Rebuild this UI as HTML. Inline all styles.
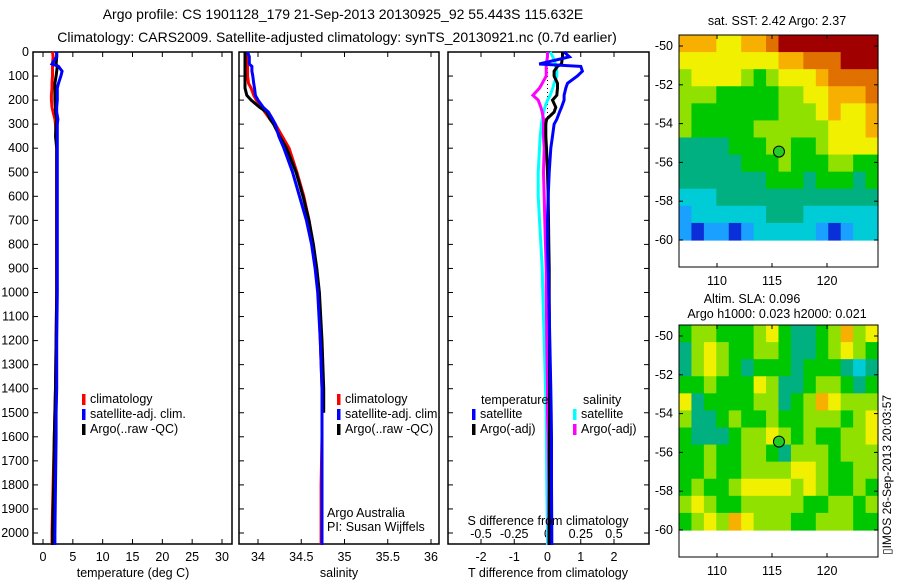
<!DOCTYPE html>
<html><head><meta charset="utf-8">
<style>
html,body{margin:0;padding:0;background:#fff;}
svg{display:block;font-family:"Liberation Sans",sans-serif;}
text{font-size:12.5px;fill:#000;}
.ttl{font-size:14px;}
</style></head>
<body>
<svg id="fig" width="900" height="580" viewBox="0 0 900 580" xmlns="http://www.w3.org/2000/svg">
<text class="ttl" x="343" y="19" text-anchor="middle">Argo profile: CS 1901128_179 21-Sep-2013 20130925_92 55.443S 115.632E</text>
<text class="ttl" x="337" y="42" text-anchor="middle">Climatology: CARS2009. Satellite-adjusted climatology: synTS_20130921.nc (0.7d earlier)</text>
<g id="plots"></g>
<text transform="translate(891,555) rotate(-90)" style="font-size:12px">▯IMOS 26-Sep-2013 20:03:57</text>
</svg>
<script>
// ---- data ----
const depths = [0,20,50,60,80,100,130,150,180,200,230,250,280,300,350,400,500,600,700,800,900,1000,1200,1400,1500,1600,1800,2000,2050];
const tempClim = [1.6,1.7,1.6,1.6,1.6,1.6,1.5,1.5,1.4,1.4,1.5,1.7,2.0,2.1,2.2,2.3,2.3,2.3,2.3,2.3,2.3,2.3,2.2,2.1,2.0,1.9,1.7,1.5,1.5];
const tempSat = [2.3,2.3,1.5,2.6,3.2,3.0,2.6,2.4,2.4,2.4,2.3,2.3,2.5,2.4,2.4,2.4,2.4,2.4,2.4,2.4,2.4,2.4,2.3,2.3,2.2,2.2,2.1,2.0,2.0];
const tempArgo = [2.3,2.3,2.2,2.4,2.3,2.2,2.0,2.0,2.0,2.0,2.1,2.1,2.3,2.2,2.1,2.3,2.3,2.3,2.3,2.3,2.3,2.3,2.2,2.1,2.0,1.9,1.8,1.6,1.6];
const salClim = [33.88,33.88,33.88,33.88,33.88,33.88,33.89,33.92,33.95,33.98,34.04,34.08,34.14,34.2,34.28,34.36,34.45,34.53,34.59,34.63,34.67,34.70,34.72,34.74,34.74,34.74,34.73,34.73,34.73];
const salSat = [33.88,33.9,33.9,33.93,33.93,33.94,33.95,33.96,33.97,34.0,34.06,34.12,34.17,34.2,34.24,34.3,34.4,34.48,34.56,34.62,34.66,34.69,34.72,34.74,34.74,34.74,34.74,34.74,34.74];
const salArgo = [33.85,33.85,33.85,33.85,33.85,33.85,33.85,33.85,33.87,33.92,34.02,34.1,34.14,34.18,34.25,34.33,34.44,34.52,34.59,34.64,34.68,34.71,34.74,34.76,34.76,null,null,null,null];
const dTsat = [0.5,0.66,-0.25,1.0,1.05,0.9,0.6,0.55,0.5,0.5,0.42,0.36,0.28,0.2,0.15,0.1,0.05,0.02,0.0,0.0,0.02,0.04,0.07,0.1,0.11,0.12,0.12,0.13,0.13];
const dTargo = [0.45,0.45,0.42,0.3,0.2,0.2,0.3,0.3,0.28,0.15,0.25,0.2,-0.03,-0.05,-0.05,-0.03,0.0,0.02,0.03,0.04,0.05,0.05,0.06,0.06,0.06,0.06,0.06,0.05,0.05];
const dSsat = [0.02,0.04,0.06,0.06,0.07,0.07,0.05,0.04,0.02,0.0,-0.02,-0.03,-0.04,-0.045,-0.055,-0.06,-0.07,-0.07,-0.06,-0.05,-0.04,-0.035,-0.025,-0.015,-0.01,-0.008,-0.005,0.0,0.0];
const dSargo = [0.0,0.0,-0.01,-0.01,-0.01,-0.01,-0.04,-0.06,-0.11,-0.07,-0.05,-0.04,-0.03,-0.03,-0.03,-0.025,-0.03,-0.025,-0.02,-0.015,-0.01,-0.01,-0.005,0.0,0.0,0.005,0.01,0.01,0.01];
const depthTicks = [0,100,200,300,400,500,600,700,800,900,1000,1100,1200,1300,1400,1500,1600,1700,1800,1900,2000];
const tempTicks = [0,5,10,15,20,25,30];
const salTicks = [34,34.5,35,35.5,36];
const dTTicks = [-2,-1,0,1,2];
const dSTicks = [-0.5,-0.25,0,0.25,0.5];
const dSTickLabels = ["-0.5","-0.25","0","0.25","0.5"];
const latTicks = [-50,-52,-54,-56,-58,-60];
const lonTicks = [110,115,120];
const sstGrid = [
[7,7,7,6,6,7,7,8,9,9,9,9,9,9,9,9],
[6,6,6,6,6,6,6,6,7,7,8,8,8,9,9,9],
[5,6,6,6,6,5,4,5,6,6,6,7,8,8,8,8],
[5,5,5,4,4,4,4,4,5,5,6,6,7,7,7,8],
[5,4,4,4,4,4,4,4,5,5,5,6,7,6,6,7],
[5,4,4,4,4,4,5,5,5,5,5,5,6,6,6,7],
[3,3,3,3,4,4,4,5,5,4,4,5,6,6,6,6],
[3,3,3,3,3,4,4,4,5,4,4,4,5,5,4,4],
[3,3,3,3,3,3,3,4,4,4,3,4,4,4,3,4],
[2,2,2,3,3,3,3,3,3,3,3,3,3,3,3,3],
[1,2,2,2,2,2,2,3,3,3,2,2,2,2,2,2],
[1,0,1,1,0,1,2,2,2,2,2,1,0,1,2,2]];
const slaGrid = [
[4,5,5,4,4,4,5,6,4,3,3,4,5,7,5,6],
[3,5,6,5,4,4,5,5,4,3,3,4,5,6,5,4],
[3,5,6,5,4,3,4,4,4,3,4,4,4,3,2,3],
[4,4,5,4,4,4,6,5,3,3,4,5,5,4,3,4],
[6,3,4,4,4,4,5,5,3,4,5,7,6,5,5,5],
[5,3,3,4,5,4,4,5,4,4,5,5,5,4,5,6],
[4,3,3,3,4,5,5,6,5,4,5,4,4,5,5,6],
[4,4,5,4,4,5,5,4,3,5,5,5,4,5,5,5],
[4,4,5,4,4,5,5,5,5,6,6,5,4,4,5,5],
[4,5,4,4,5,6,6,6,6,5,6,5,4,4,5,4],
[5,6,5,4,4,5,5,5,5,5,4,4,5,5,4,5],
[4,5,6,5,7,6,5,5,5,4,4,5,5,5,4,4]];
const palette = ['#0a2fd8','#1aa0ff','#00ccd8','#00b080','#00c800','#90e000','#f0f000','#f8b000','#e07000','#a00000'];
const floatLon = 115.632, floatLat = -55.443;

// ---- helpers ----
const NS='http://www.w3.org/2000/svg';
const root=document.getElementById('plots');
function mk(tag,attrs,parent){const e=document.createElementNS(NS,tag);for(const k in attrs)e.setAttribute(k,attrs[k]);(parent||root).appendChild(e);return e;}
function lin(d0,d1,r0,r1){return v=>r0+(v-d0)*(r1-r0)/(d1-d0);}
const yD = lin(0,2000,52,533);
const PT=52, PB=544;

function panel(x0,x1,name){
  const g=mk('g',{});
  
  
  const r=mk('rect',{x:x0,y:PT,width:x1-x0,height:PB-PT,fill:'none',stroke:'#000','stroke-width':1.5},g);
  
  
  depthTicks.forEach(d=>{mk('line',{x1:x0,x2:x0+5,y1:yD(d),y2:yD(d),stroke:'#000'},g);});
  return g;
}
function line(g,xs,ys,xf,color,name,w){
  let d='';let pen=false;
  xs.forEach((v,i)=>{if(v===null){pen=false;return;}d+=(pen?'L':'M')+xf(v).toFixed(1)+','+yD(ys[i]).toFixed(1);pen=true;});
  const p=mk('path',{d:d,fill:'none',stroke:color,'stroke-width':w||3,'stroke-linejoin':'miter'},g);
  
  
}
function text(g,x,y,s,anchor,name){
  const t=mk('text',{x:x,y:y,'text-anchor':anchor||'start'},g);t.textContent=s;
  
  
  return t;
}
function legend(g,x,y,items,prefix){
  items.forEach((it,i)=>{
    const r=mk('rect',{x:x,y:y+i*15-9,width:3.5,height:11,fill:it[1]},g);
    
    
    text(g,x+8,y+i*15,it[0],'start',prefix+'-label-'+i);
  });
}

// ---- panel 1 temperature ----
const xT=lin(0,30,43,222);
const g1=panel(33,232,'temperature-panel');
tempTicks.forEach(t=>{mk('line',{x1:xT(t),x2:xT(t),y1:PB,y2:PB-5,stroke:'#000'},g1);mk('line',{x1:xT(t),x2:xT(t),y1:PT,y2:PT+5,stroke:'#000'},g1);text(g1,xT(t),561,String(t),'middle','temp-tick-'+t);});
depthTicks.forEach(d=>text(g1,29,yD(d)+4,String(d),'end','depth-tick-'+d));
line(g1,tempClim,depths,xT,'#f00','temp-climatology-line');
line(g1,tempArgo,depths,xT,'#000','temp-argo-line');
line(g1,tempSat,depths,xT,'#00f','temp-satellite-line');
legend(g1,82,403,[['climatology','#f00'],['satellite-adj. clim.','#00f'],['Argo(..raw -QC)','#000']],'temp-legend');
text(g1,133,577,'temperature (deg C)','middle','temp-x-axis-title');

// ---- panel 2 salinity ----
const xS=lin(34,36,258,431);
const g2=panel(239,439,'salinity-panel');
salTicks.forEach(t=>{mk('line',{x1:xS(t),x2:xS(t),y1:PB,y2:PB-5,stroke:'#000'},g2);mk('line',{x1:xS(t),x2:xS(t),y1:PT,y2:PT+5,stroke:'#000'},g2);text(g2,xS(t),561,String(t),'middle','sal-tick-'+t);});
line(g2,salClim,depths,xS,'#f00','sal-climatology-line');
line(g2,salArgo,depths,xS,'#000','sal-argo-line');
line(g2,salSat,depths,xS,'#00f','sal-satellite-line');
legend(g2,337,403,[['climatology','#f00'],['satellite-adj. clim.','#00f'],['Argo(..raw -QC)','#000']],'sal-legend');
text(g2,327,517,'Argo Australia','start','argo-australia-label');
text(g2,327,531,'PI: Susan Wijffels','start','pi-label');
text(g2,339,577,'salinity','middle','sal-x-axis-title');

// ---- panel 3 differences ----
const xdT=lin(-2,2,481,614);
const xdS=lin(-0.5,0.5,481,614);
const g3=panel(448,649,'difference-panel');
depthTicks.forEach(d=>{mk('line',{x1:649,x2:644,y1:yD(d),y2:yD(d),stroke:'#000'},g3);});
dTTicks.forEach(t=>{mk('line',{x1:xdT(t),x2:xdT(t),y1:PB,y2:PB-5,stroke:'#000'},g3);mk('line',{x1:xdT(t),x2:xdT(t),y1:PT,y2:PT+5,stroke:'#000'},g3);text(g3,xdT(t),561,String(t),'middle','dT-tick-'+t);});
dSTicks.forEach((t,i)=>text(g3,xdS(t),538,dSTickLabels[i],'middle','dS-tick-'+i));
mk('line',{x1:xdT(0),x2:xdT(0),y1:PT,y2:yD(300),stroke:'#000','stroke-dasharray':'1,3'},g3);
line(g3,dSsat,depths,xdS,'#0ff','dS-satellite-line');
line(g3,dSargo,depths,xdS,'#f0f','dS-argo-line');
line(g3,dTargo,depths,xdT,'#000','dT-argo-line');
line(g3,dTsat,depths,xdT,'#00f','dT-satellite-line');
text(g3,481,404,'temperature','start','dT-legend-title');
text(g3,583,404,'salinity','start','dS-legend-title');
legend(g3,472,418,[['satellite','#00f'],['Argo(-adj)','#000']],'dT-legend');
legend(g3,573,418,[['satellite','#0ff'],['Argo(-adj)','#f0f']],'dS-legend');
text(g3,548,525,'S difference from climatology','middle','dS-axis-title');
text(g3,548,577,'T difference from climatology','middle','dT-axis-title');

// ---- maps ----
const xLon=lin(110,120,717,827);
function map(top,lat50,lat60,grid,name,titles){
  const g=mk('g',{});
  
  
  const yL=lin(-50,-60,lat50,lat60);
  const bottom=top+232;
  const rows=grid.length, cols=grid[0].length;
  const x0=679,x1=878,yTop=top,yBot=yL(-60);
  const cw=(x1-x0)/cols, ch=(yBot-yTop)/rows;
  grid.forEach((row,r)=>row.forEach((v,c)=>{
    const cell=mk('rect',{x:(x0+c*cw).toFixed(2),y:(yTop+r*ch).toFixed(2),width:(cw+0.6).toFixed(2),height:(ch+0.6).toFixed(2),fill:palette[v]},g);
    
    
  }));
  const fr=mk('rect',{x:x0,y:top,width:x1-x0,height:bottom-top,fill:'none',stroke:'#000','stroke-width':1},g);
  
  
  latTicks.forEach(l=>{mk('line',{x1:x0,x2:x0+4,y1:yL(l),y2:yL(l),stroke:'#000'},g);mk('line',{x1:x1,x2:x1-4,y1:yL(l),y2:yL(l),stroke:'#000'},g);text(g,x0-6,yL(l)+4,String(l),'end',name+'-lat-tick');});
  lonTicks.forEach(l=>{mk('line',{x1:xLon(l),x2:xLon(l),y1:top,y2:top+4,stroke:'#000'},g);mk('line',{x1:xLon(l),x2:xLon(l),y1:bottom,y2:bottom-4,stroke:'#000'},g);text(g,xLon(l),bottom+18,String(l),'middle',name+'-lon-tick');});
  const c=mk('circle',{cx:xLon(floatLon),cy:yL(floatLat),r:5.5,fill:'#22cc22',stroke:'#000','stroke-width':1},g);
  
  
  titles.forEach((t,i)=>text(g,t[1],t[2],t[0],'middle',name+'-title-'+i));
}
map(35,46,240,sstGrid,'sst-map',[['sat. SST: 2.42  Argo: 2.37',777,25]]);
map(325,336,530,slaGrid,'sla-map',[['Altim. SLA: 0.096',752,303],['Argo h1000: 0.023 h2000: 0.021',777,318]]);
</script>
</body></html>
